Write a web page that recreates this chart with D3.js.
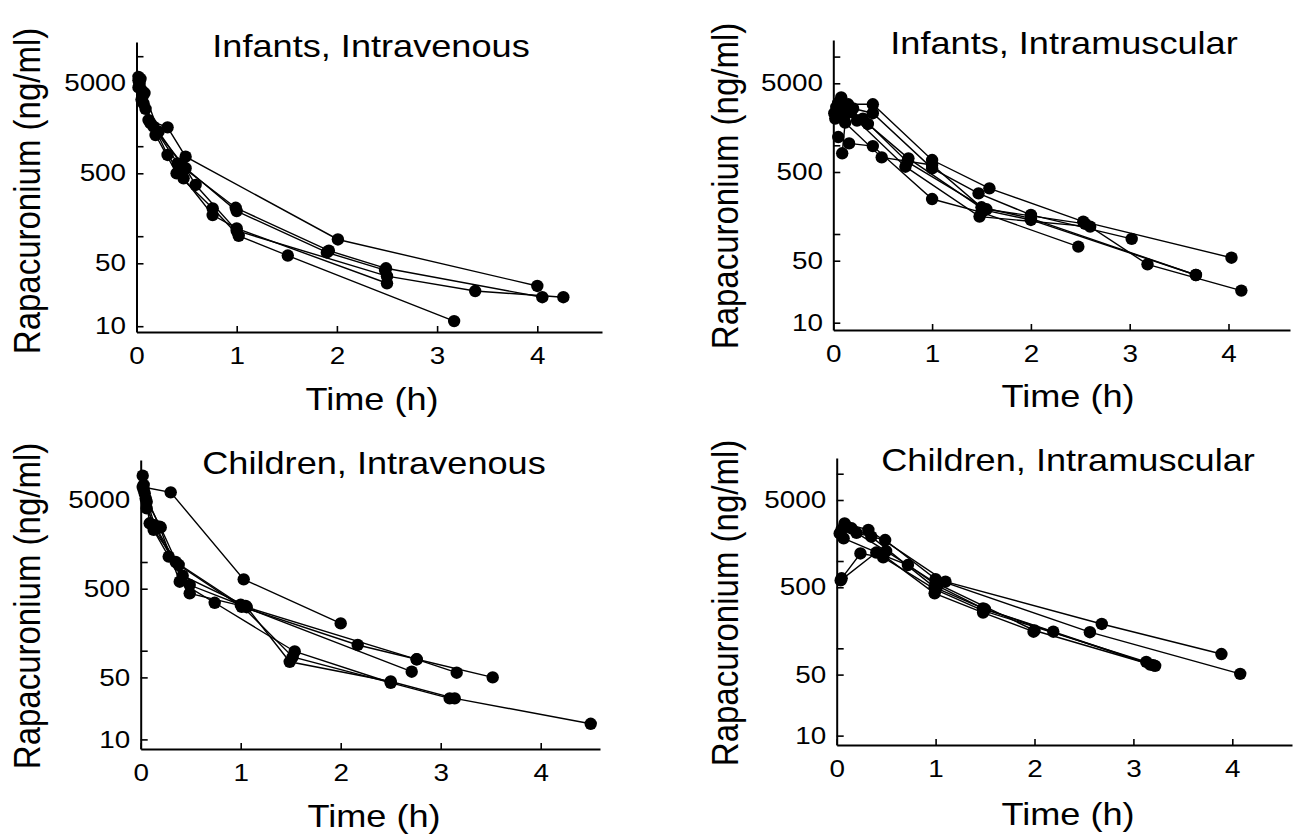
<!DOCTYPE html>
<html><head><meta charset="utf-8">
<script src="https://cdnjs.cloudflare.com/ajax/libs/d3/7.8.5/d3.min.js"></script>
<style>
body{margin:0;background:#fff}
svg{display:block}
text{font-family:"Liberation Sans",Arial,Helvetica,sans-serif;fill:#000}
</style>
</head><body>
<svg id="c" width="1293" height="836"></svg>
<script>
// ---------- data ----------
const yTickValues = [10, 50, 500, 5000];
const yMinorTickValues = [100, 1000, 10000];
const xTickValues = [0, 1, 2, 3, 4];
const panelTitles = ["Infants, Intravenous", "Infants, Intramuscular", "Children, Intravenous", "Children, Intramuscular"];
const xAxisLabel = "Time (h)";
const yAxisLabel = "Rapacuronium (ng/ml)";

// each subject: list of [time (h), concentration (ng/ml)]
const infantsIV = [
  [[0.02,5900],[0.05,4200],[0.12,1950],[0.31,1620],[0.49,765],[2.01,92],[4.0,28]],
  [[0.02,5400],[0.06,3600],[0.17,1650],[0.41,645],[0.99,207],[1.92,69],[2.49,44],[4.05,21]],
  [[0.03,4800],[0.07,3000],[0.19,1330],[0.40,500],[0.76,204],[1.02,101],[1.51,61],[3.17,11.4]],
  [[0.03,5200],[0.09,2600],[0.31,800],[0.47,440],[0.76,172],[1.0,122],[2.5,30]],
  [[0.02,4500],[0.05,3300],[0.14,1800],[0.49,569],[0.59,371],[1.0,115],[2.5,36],[3.38,24.6],[4.26,21]],
  [[0.04,5600],[0.08,3900],[0.22,1450],[0.45,620],[1.0,190],[1.9,66],[2.48,42]]
];
const infantsIM = [
  [[0.03,2700],[0.15,2900],[0.40,2900],[1.0,682],[1.58,327],[2.53,138],[4.03,54]],
  [[0.05,3000],[0.2,2600],[0.40,2300],[1.0,550],[1.47,287],[2.0,164],[3.02,88]],
  [[0.08,3470],[0.12,2200],[0.35,1740],[0.76,713],[1.53,186],[2.0,144],[3.67,34.5]],
  [[0.02,2000],[0.1,2500],[0.24,1900],[0.73,574],[1.48,157],[2.6,121],[3.18,45.5],[4.13,23]],
  [[0.05,1240],[0.16,1050],[0.40,980],[1.0,248],[1.5,175],[2.48,72]],
  [[0.09,813],[0.12,1800],[0.49,730],[1.0,600],[1.5,200],[2.0,150],[3.67,34.5]],
  [[0.01,2300],[0.06,2800],[0.18,2400],[0.3,2000],[0.75,650],[1.55,190],[2.55,130]]
];
const childrenIV = [
  [[0.02,7000],[0.30,6100],[1.03,637],[2.0,203]],
  [[0.02,9400],[0.06,4790],[0.13,2300],[0.38,925],[1.01,313],[2.17,116],[2.76,80],[3.52,50]],
  [[0.03,7380],[0.09,2730],[0.28,1150],[0.49,550],[1.06,309],[2.76,80],[3.16,56.5]],
  [[0.04,5940],[0.19,2500],[0.39,600],[0.74,347],[1.54,98],[2.5,43.5]],
  [[0.06,4030],[0.15,2400],[0.49,443],[1.01,320],[2.71,58]],
  [[0.03,6500],[0.14,2600],[0.35,1000],[1.0,330],[1.52,85],[3.09,29]],
  [[0.05,5200],[0.2,2450],[0.42,700],[1.05,320],[1.49,75],[2.5,45],[3.14,29],[4.5,15]]
];
const childrenIM = [
  [[0.08,2700],[0.32,2270],[1.1,580],[2.68,190],[3.89,86]],
  [[0.05,2300],[0.49,1740],[1.0,620],[2.56,153],[4.08,51]],
  [[0.03,2070],[0.15,2370],[0.35,1900],[0.99,500],[1.48,287],[2.19,155],[3.22,63]],
  [[0.07,1820],[0.47,1170],[0.99,427],[1.48,257],[1.99,155]],
  [[0.05,634],[0.24,1220],[0.47,1100],[1.0,470],[1.48,270],[3.13,70]],
  [[0.04,600],[0.4,1250],[0.72,900],[1.02,520],[1.5,280],[3.17,65]],
  [[0.1,2500],[0.2,2100],[0.5,1300],[1.0,560],[2.0,160],[3.2,64]]
];
const panelData = [infantsIV, infantsIM, childrenIV, childrenIM];

// ---------- layout (pixels) ----------
const geom = [
  {x0:136.5, perH:100.2, xEnd:602,  y5000:83.3, dec:90,   yBot:332, yTop:42,  titleX:371,  titleY:57,  labX:372,  labY:410, ylabX:40,  ylabY:191},
  {x0:833.3, perH:98.8,  xEnd:1290, y5000:83.3, dec:88.7, yBot:330, yTop:40,  titleX:1064, titleY:54,  labX:1068, labY:407, ylabX:738, ylabY:186},
  {x0:140.7, perH:100,   xEnd:600,  y5000:500,  dec:88.7, yBot:749, yTop:460, titleX:374,  titleY:474, labX:374,  labY:827, ylabX:40,  ylabY:606},
  {x0:836.7, perH:98.9,  xEnd:1292, y5000:500,  dec:87.3, yBot:745, yTop:458, titleX:1068, titleY:471, labX:1068, labY:825, ylabX:738, ylabY:603}
];

const svg = d3.select("#c");
const stretch = 1.13;      // horizontal widening of the lettering
const tickStretch = 1.16;

geom.forEach((g, i) => {
  const x = d3.scaleLinear().domain([0, (g.xEnd - g.x0) / g.perH]).range([g.x0, g.xEnd]);
  const y = d3.scaleLog()
    .domain([5000 * Math.pow(10, -(g.yBot - g.y5000) / g.dec), 5000 * Math.pow(10, (g.y5000 - g.yTop) / g.dec)])
    .range([g.yBot, g.yTop]);
  const p = svg.append("g");

  // axes
  const ya = d3.axisLeft(y).tickValues(yTickValues.concat(yMinorTickValues))
    .tickFormat(d => yTickValues.includes(d) ? String(d) : "")
    .tickSize(-7).tickSizeOuter(0).tickPadding(9);
  const yg = p.append("g").attr("transform", `translate(${g.x0},0)`).call(ya);
  const xa = d3.axisBottom(x).tickValues(xTickValues).tickFormat(d => String(d))
    .tickSize(-6).tickSizeOuter(0).tickPadding(15);
  const xg = p.append("g").attr("transform", `translate(0,${g.yBot})`).call(xa);
  [yg, xg].forEach(a => {
    a.select(".domain").attr("stroke", "#000").attr("stroke-width", 2);
    a.selectAll(".tick line").attr("stroke", "#000").attr("stroke-width", 1.6);
    a.selectAll(".tick text").attr("font-size", 24).attr("fill", "#000")
      .attr("transform", `scale(${tickStretch},1)`)
      .style("font-family", '"Liberation Sans",Arial,sans-serif');
  });

  // lines and points
  const line = d3.line().x(d => x(d[0])).y(d => y(d[1]));
  const subj = p.selectAll(".subj").data(panelData[i]).join("g");
  subj.append("path").attr("d", line).attr("fill", "none").attr("stroke", "#000").attr("stroke-width", 1.4);
  subj.selectAll("circle").data(d => d).join("circle")
    .attr("cx", d => x(d[0])).attr("cy", d => y(d[1])).attr("r", 6.2).attr("fill", "#000");

  // texts
  p.append("text").attr("transform", `translate(${g.titleX},${g.titleY}) scale(${stretch},1)`)
    .attr("text-anchor", "middle").attr("font-size", 32).text(panelTitles[i]);
  p.append("text").attr("transform", `translate(${g.labX},${g.labY}) scale(${stretch},1)`)
    .attr("text-anchor", "middle").attr("font-size", 32).text(xAxisLabel);
  p.append("text").attr("transform", `translate(${g.ylabX},${g.ylabY}) scale(${stretch},1) rotate(-90)`)
    .attr("text-anchor", "middle").attr("font-size", 33).text(yAxisLabel);
});
</script>
</body></html>
